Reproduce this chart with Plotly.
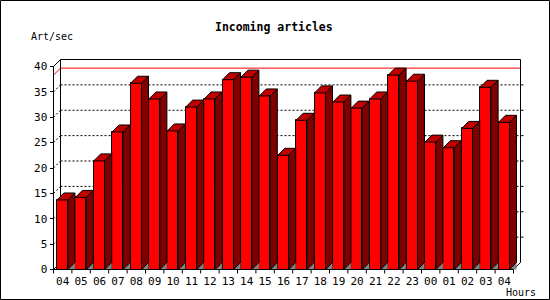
import plotly.graph_objects as go

# ---------------- data ----------------
hours = ["04", "05", "06", "07", "08", "09", "10", "11", "12", "13", "14", "15", "16",
         "17", "18", "19", "20", "21", "22", "23", "00", "01", "02", "03", "04"]
rates = [13.7, 14.2, 21.4, 27.1, 36.7, 33.6, 27.3, 32.0, 33.6, 37.4, 37.9, 34.2, 22.5,
         29.4, 34.8, 33.0, 31.8, 33.6, 38.3, 37.1, 25.1, 24.0, 27.8, 35.9, 29.0]
y_ticks = [0, 5, 10, 15, 20, 25, 30, 35, 40]
title_text = "Incoming articles"
y_title = "Art/sec"
x_title = "Hours"

# ---------------- geometry (pixels) ----------------
W, H = 550, 300
PX_LEFT = 53.5      # front y axis
PITCH = 18.4        # px per category
Y0 = 269.5          # front zero line
PXU = 5.075         # px per unit
DX_PX, DY_PX = 7.0, 7.0
BAR_OFF_PX, BAR_W_PX = 3.4, 11.0

dx = DX_PX / PITCH
dy = DY_PX / PXU
x_range = [-0.5 - PX_LEFT / PITCH, -0.5 + (W - PX_LEFT) / PITCH]
y_range = [(Y0 - H) / PXU, Y0 / PXU]

n = len(hours)
idx = list(range(n))
bw = BAR_W_PX / PITCH
boff = BAR_OFF_PX / PITCH - 0.5
lefts = [i + boff for i in idx]
rights = [l + bw for l in lefts]
X_L, X_R = -0.5, n - 0.5
YTOP = y_ticks[-1]
vmax = max(rates)

fig = go.Figure()

# front faces
fig.add_trace(go.Bar(
    x=idx, y=rates, width=bw, offset=boff,
    marker=dict(color="#FF0000", line=dict(color="black", width=1)),
    hoverinfo="skip", showlegend=False))

# floor shadow triangles
sx, sy = [], []
for r in rights:
    sx += [r, r + dx, r + dx, r, None]
    sy += [0, dy, 0, 0, None]
fig.add_trace(go.Scatter(x=sx, y=sy, mode="lines", fill="toself",
                         fillcolor="#808080", line=dict(color="#808080", width=0),
                         hoverinfo="skip", showlegend=False))

# side faces
sdx, sdy = [], []
for r, v in zip(rights, rates):
    sdx += [r, r + dx, r + dx, r, r, None]
    sdy += [0, dy, v + dy, v, 0, None]
fig.add_trace(go.Scatter(x=sdx, y=sdy, mode="lines", fill="toself",
                         fillcolor="#800000", line=dict(color="black", width=1),
                         hoverinfo="skip", showlegend=False))

# top faces
tx, ty = [], []
for l, r, v in zip(lefts, rights, rates):
    tx += [l, l + dx, r + dx, r, l, None]
    ty += [v, v + dy, v + dy, v, v, None]
fig.add_trace(go.Scatter(x=tx, y=ty, mode="lines", fill="toself",
                         fillcolor="#C00000", line=dict(color="black", width=1),
                         hoverinfo="skip", showlegend=False))

# x tick marks at category boundaries
kx, ky = [], []
for i in range(n + 1):
    b = i - 0.5
    kx += [b, b, None]
    ky += [0, -4 / PXU, None]
fig.add_trace(go.Scatter(x=kx, y=ky, mode="lines", line=dict(color="black", width=1),
                         hoverinfo="skip", showlegend=False))

# ---------------- shapes behind bars ----------------
shapes = []
def ln(x0, y0, x1, y1, color="black", dash="solid", layer="below"):
    shapes.append(dict(type="line", xref="x", yref="y", x0=x0, y0=y0, x1=x1, y1=y1,
                       line=dict(color=color, width=1, dash=dash), layer=layer))

for v in y_ticks[1:-1]:
    ln(X_L + dx, v + dy, X_R + dx, v + dy, dash="2px,2px")
    ln(X_L, v, X_L + dx, v + dy, dash="2px,2px")
    ln(X_R + dx, v + dy, X_R + dx + 3 / PITCH, v + dy)

# max line
ln(X_L, vmax, X_L + dx, vmax + dy, color="#FF0000")
ln(X_L + dx, vmax + dy, X_R + dx, vmax + dy, color="#FF0000")

# frame
ln(X_L, 0, X_L, YTOP)
ln(X_L, YTOP, X_L + dx, YTOP + dy)
ln(X_L + dx, YTOP + dy, X_R + dx, YTOP + dy)
ln(X_R + dx, YTOP + dy, X_R + dx, dy)
ln(X_L + dx, YTOP + dy, X_L + dx, dy)
ln(X_R + dx, dy, X_R, 0)
ln(X_L, 0, X_L + dx, dy)
ln(X_L, 0, X_R, 0, layer="above")

# outer border
shapes.append(dict(type="rect", xref="paper", yref="paper",
                   x0=0.5 / W, x1=(W - 0.5) / W, y0=0.5 / H, y1=(H - 0.5) / H,
                   line=dict(color="black", width=1), layer="above"))

mono = "DejaVu Sans Mono"
annotations = [
    dict(text="<b>%s</b>" % title_text, xref="paper", yref="paper", x=274 / W, y=1 - 27 / H,
         xanchor="center", yanchor="middle", showarrow=False,
         font=dict(family=mono, size=11.5, color="black")),
    dict(text=y_title, xref="paper", yref="paper", x=29 / W, y=1 - 37 / H,
         xanchor="left", yanchor="middle", showarrow=False,
         font=dict(family=mono, size=10, color="black")),
    dict(text=x_title, xref="paper", yref="paper", x=504 / W, y=1 - 292 / H,
         xanchor="left", yanchor="middle", showarrow=False,
         font=dict(family=mono, size=10, color="black")),
]

fig.update_layout(
    width=W, height=H, autosize=False,
    margin=dict(l=0, r=0, t=0, b=0, pad=0),
    paper_bgcolor="white", plot_bgcolor="white",
    showlegend=False, bargap=0,
    shapes=shapes, annotations=annotations,
    xaxis=dict(range=x_range, showgrid=False, zeroline=False, showline=False,
               tickmode="array", tickvals=idx, ticktext=hours, ticks="",
               tickfont=dict(family=mono, size=11, color="black"),
               anchor="free", position=(H - Y0) / H, fixedrange=True,
               ticklabelstandoff=3),
    yaxis=dict(range=y_range, showgrid=False, zeroline=False, showline=False,
               tickmode="array", tickvals=y_ticks, ticks="outside", ticklen=4,
               tickcolor="black", tickwidth=1,
               tickfont=dict(family=mono, size=11, color="black"),
               anchor="free", position=PX_LEFT / W, fixedrange=True),
)

fig.write_html("out.html")
